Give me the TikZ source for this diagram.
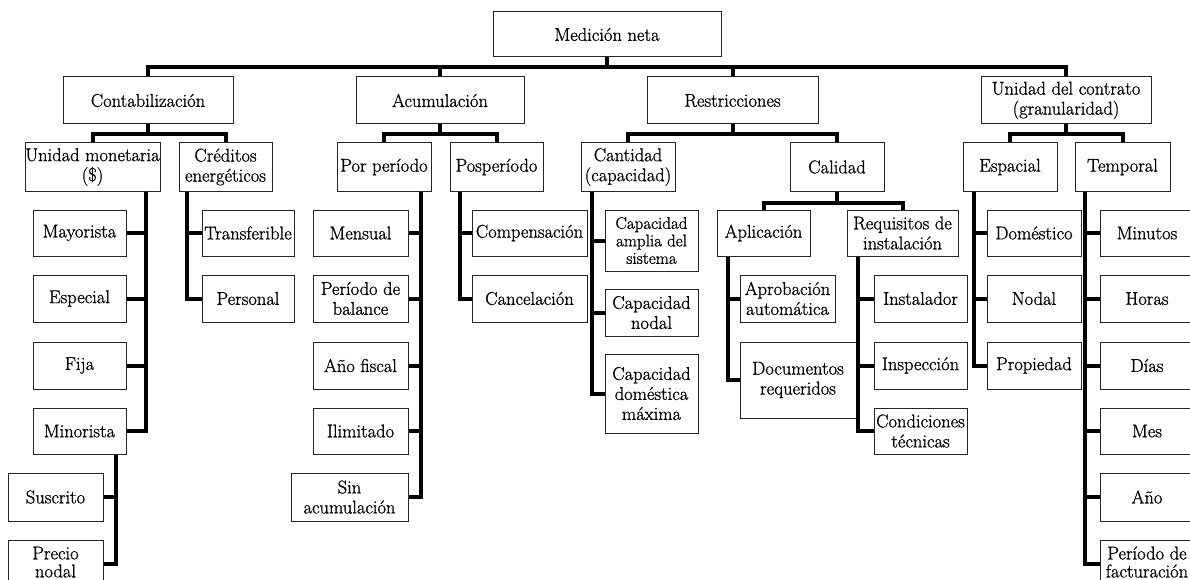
\documentclass[tikz,border=0pt]{standalone}
\usepackage{fontspec}
\setmainfont{Latin Modern Roman}[FakeBold=1]
\begin{document}
\begin{tikzpicture}[x=1pt,y=-1pt,
  box/.style={draw=black!85,line width=1pt,inner sep=0pt,align=center,
    font=\fontsize{18.5}{20}\selectfont},
  lowtext/.style={font=\fontsize{18.5}{18}\selectfont,text depth=4pt},
  link/.style={line width=4pt,line join=miter}]
\clip (0,0) rectangle (1190,580);
\useasboundingbox (0,0) rectangle (1190,580);
% \cajon[options]{name}{x1}{y1}{x2}{y2}{text}
\newcommand\cajon[7][]{\node[box,minimum width={#5-#3},minimum height={#6-#4},#1]
  (#2) at ({(#3+#5)/2},{(#4+#6)/2}) {#7};}

% level 0 and 1
\cajon{root}{493}{12}{721}{57}{Medición neta}
\cajon{conta}{63}{77}{233}{124}{Contabilización}
\cajon{acum}{356}{77}{524}{124}{Acumulación}
\cajon{restr}{647}{77}{818}{124}{Restricciones}
\cajon{unid}{981}{77}{1151}{124}{Unidad del contrato\\(granularidad)}

% level 2
\cajon{um}{25}{143}{160}{191}{Unidad monetaria\\(\$)}
\cajon{cred}{179}{143}{272}{191}{Créditos\\energéticos}
\cajon{porp}{337}{143}{431}{191}{Por período}
\cajon{posp}{450}{143}{543}{191}{Posperíodo}
\cajon{cant}{581}{143}{675}{191}{Cantidad\\(capacidad)}
\cajon{cal}{790}{143}{884}{191}{Calidad}
\cajon{esp}{963}{143}{1057}{191}{Espacial}
\cajon{temp}{1075}{143}{1170}{191}{Temporal}

% Contabilización branch
\cajon{mayor}{33}{210}{126}{256}{Mayorista}
\cajon{espec}{33}{275}{126}{322}{Especial}
\cajon{fija}{33}{342}{126}{389}{Fija}
\cajon{minor}{33}{408}{126}{454}{Minorista}
\cajon{suscr}{8}{473}{103}{521}{Suscrito}
\cajon[lowtext]{precio}{8}{540}{103}{588}{Precio\\nodal}
\cajon{transf}{202}{210}{294}{256}{Transferible}
\cajon{pers}{202}{275}{294}{322}{Personal}

% Acumulación branch
\cajon{mens}{313}{210}{408}{256}{Mensual}
\cajon{pbal}{313}{275}{408}{322}{Período de\\balance}
\cajon{afis}{313}{342}{408}{389}{Año fiscal}
\cajon{ilim}{313}{408}{408}{454}{Ilimitado}
\cajon{sinac}{291}{473}{408}{521}{Sin\\acumulación}
\cajon{comp}{472}{210}{587}{256}{Compensación}
\cajon{canc}{472}{275}{587}{322}{Cancelación}

% Restricciones branch
\cajon[font=\fontsize{17}{17.5}\selectfont]{capa}{605}{210}{698}{271}{Capacidad\\amplia del\\sistema}
\cajon{capn}{605}{289}{698}{336}{Capacidad\\nodal}
\cajon{capd}{605}{354}{698}{433}{Capacidad\\doméstica\\máxima}
\cajon{apl}{717}{210}{810}{256}{Aplicación}
\cajon{req}{847}{210}{958}{256}{Requisitos de\\instalación}
\cajon{aprob}{740}{275}{835}{322}{Aprobación\\automática}
\cajon{docs}{740}{342}{856}{418}{Documentos\\requeridos}
\cajon{inst}{874}{275}{967}{322}{Instalador}
\cajon{insp}{874}{342}{967}{389}{Inspección}
\cajon{cond}{874}{408}{967}{454}{Condiciones\\técnicas}

% Unidad del contrato branch
\cajon{dom}{987}{210}{1081}{256}{Doméstico}
\cajon{nod}{987}{275}{1081}{322}{Nodal}
\cajon{prop}{987}{342}{1081}{389}{Propiedad}
\cajon{minu}{1100}{210}{1194}{256}{Minutos}
\cajon{hora}{1100}{275}{1194}{322}{Horas}
\cajon{dias}{1100}{342}{1194}{389}{Días}
\cajon{mes}{1100}{408}{1194}{454}{Mes}
\cajon{anio}{1100}{473}{1194}{521}{Año}
\cajon[lowtext]{pfac}{1100}{540}{1194}{588}{Período de\\facturación}

% bar levels and trunk positions
\coordinate (topbar) at (0,67);
\coordinate (subbar) at (0,134);
\coordinate (calbar) at (0,203);
\coordinate (umtr) at (146,0);
\coordinate (mitr) at (116,0);
\coordinate (crtr) at (187,0);
\coordinate (potr) at (421,0);
\coordinate (pstr) at (460,0);
\coordinate (catr) at (592,0);
\coordinate (aptr) at (728,0);
\coordinate (retr) at (858,0);
\coordinate (estr) at (974,0);
\coordinate (tetr) at (1085,0);
\coordinate (lowrow) at (0,564);

% top level
\draw[link] (conta.north) |- (unid.north |- topbar) -- (unid.north);
\draw[link] (root.south) -- (root.south |- topbar);
\draw[link] (acum.north) -- (acum.north |- topbar);
\draw[link] (restr.north) -- (restr.north |- topbar);

% second level bars
\draw[link] (um.north) |- (cred.north |- subbar) -- (cred.north);
\draw[link] (conta.south) -- (conta.south |- subbar);
\draw[link] (porp.north) |- (posp.north |- subbar) -- (posp.north);
\draw[link] (acum.south) -- (acum.south |- subbar);
\draw[link] (cant.north) |- (cal.north |- subbar) -- (cal.north);
\draw[link] (restr.south) -- (restr.south |- subbar);
\draw[link] (esp.north) |- (temp.north |- subbar) -- (temp.north);
\draw[link] (unid.south) -- (unid.south |- subbar);
\draw[link] (apl.north) |- (req.north |- calbar) -- (req.north);
\draw[link] (cal.south) -- (cal.south |- calbar);

% side trunks
\foreach \c in {mayor,espec,fija,minor}
  \draw[link] (um.south -| umtr) |- (\c.east);
\draw[link] (minor.south -| mitr) |- (suscr.east);
\draw[link] (minor.south -| mitr) |- (precio.east |- lowrow);
\foreach \c in {transf,pers}
  \draw[link] (cred.south -| crtr) |- (\c.west);
\foreach \c in {mens,pbal,afis,ilim,sinac}
  \draw[link] (porp.south -| potr) |- (\c.east);
\foreach \c in {comp,canc}
  \draw[link] (posp.south -| pstr) |- (\c.west);
\foreach \c in {capa,capn,capd}
  \draw[link] (cant.south -| catr) |- (\c.west);
\foreach \c in {aprob,docs}
  \draw[link] (apl.south -| aptr) |- (\c.west);
\foreach \c in {inst,insp,cond}
  \draw[link] (req.south -| retr) |- (\c.west);
\foreach \c in {dom,nod,prop}
  \draw[link] (esp.south -| estr) |- (\c.west);
\foreach \c in {minu,hora,dias,mes,anio}
  \draw[link] (temp.south -| tetr) |- (\c.west);
\draw[link] (temp.south -| tetr) |- (pfac.west |- lowrow);
\end{tikzpicture}
\end{document}
